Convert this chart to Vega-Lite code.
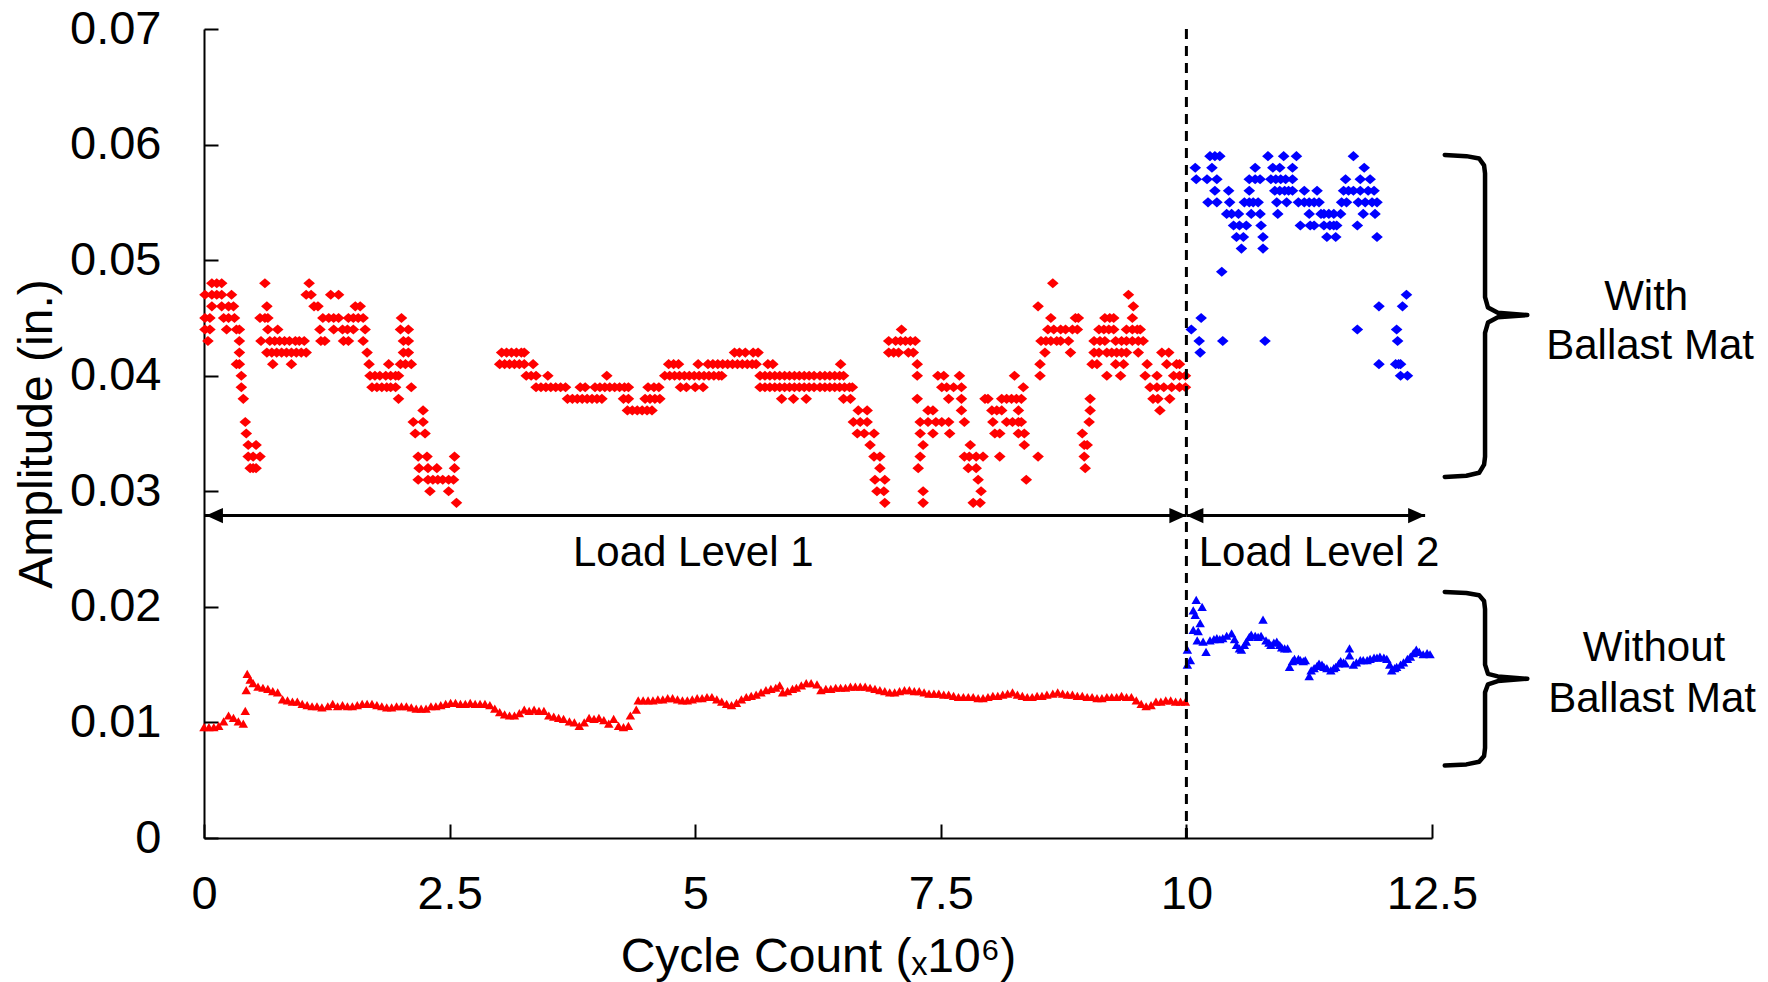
{
"$schema":"https://vega.github.io/schema/vega-lite/v6.json",
"width":1228,"height":809,
"autosize":{"type":"none"},
"padding":{"left":204,"top":29,"right":336,"bottom":144},
"background":"white",
"config":{"view":{"stroke":null},"font":"Liberation Sans"},
"datasets":{
"rd":[
{"x":0.08,"y":0.048},{"x":0.13,"y":0.048},{"x":0.18,"y":0.048},{"x":0.62,"y":0.048},{"x":1.07,"y":0.048},{"x":8.64,"y":0.048},
{"x":0.01,"y":0.047},{"x":0.08,"y":0.047},{"x":0.13,"y":0.047},{"x":0.18,"y":0.047},{"x":0.28,"y":0.047},{"x":1.04,"y":0.047},{"x":1.09,"y":0.047},{"x":1.29,"y":0.047},{"x":1.37,"y":0.047},{"x":9.41,"y":0.047},
{"x":0.08,"y":0.046},{"x":0.18,"y":0.046},{"x":0.25,"y":0.046},{"x":0.30,"y":0.046},{"x":0.64,"y":0.046},{"x":1.12,"y":0.046},{"x":1.16,"y":0.046},{"x":1.54,"y":0.046},{"x":1.59,"y":0.046},{"x":8.49,"y":0.046},{"x":9.46,"y":0.046},
{"x":0.01,"y":0.045},{"x":0.06,"y":0.045},{"x":0.20,"y":0.045},{"x":0.25,"y":0.045},{"x":0.31,"y":0.045},{"x":0.57,"y":0.045},{"x":0.62,"y":0.045},{"x":0.65,"y":0.045},{"x":1.21,"y":0.045},{"x":1.27,"y":0.045},{"x":1.32,"y":0.045},{"x":1.37,"y":0.045},{"x":1.47,"y":0.045},{"x":1.52,"y":0.045},{"x":1.57,"y":0.045},{"x":1.62,"y":0.045},{"x":2.01,"y":0.045},{"x":8.62,"y":0.045},{"x":8.87,"y":0.045},{"x":8.90,"y":0.045},{"x":9.17,"y":0.045},{"x":9.22,"y":0.045},{"x":9.26,"y":0.045},{"x":9.45,"y":0.045},
{"x":0.01,"y":0.044},{"x":0.06,"y":0.044},{"x":0.23,"y":0.044},{"x":0.33,"y":0.044},{"x":0.36,"y":0.044},{"x":0.65,"y":0.044},{"x":0.75,"y":0.044},{"x":1.18,"y":0.044},{"x":1.32,"y":0.044},{"x":1.41,"y":0.044},{"x":1.46,"y":0.044},{"x":1.52,"y":0.044},{"x":1.64,"y":0.044},{"x":2.00,"y":0.044},{"x":2.08,"y":0.044},{"x":7.10,"y":0.044},{"x":8.59,"y":0.044},{"x":8.65,"y":0.044},{"x":8.72,"y":0.044},{"x":8.77,"y":0.044},{"x":8.84,"y":0.044},{"x":8.89,"y":0.044},{"x":9.11,"y":0.044},{"x":9.16,"y":0.044},{"x":9.21,"y":0.044},{"x":9.26,"y":0.044},{"x":9.39,"y":0.044},{"x":9.45,"y":0.044},{"x":9.50,"y":0.044},{"x":9.53,"y":0.044},
{"x":0.04,"y":0.043},{"x":0.36,"y":0.043},{"x":0.58,"y":0.043},{"x":0.67,"y":0.043},{"x":0.72,"y":0.043},{"x":0.77,"y":0.043},{"x":0.82,"y":0.043},{"x":0.87,"y":0.043},{"x":0.93,"y":0.043},{"x":0.97,"y":0.043},{"x":1.02,"y":0.043},{"x":1.19,"y":0.043},{"x":1.23,"y":0.043},{"x":1.42,"y":0.043},{"x":1.47,"y":0.043},{"x":1.62,"y":0.043},{"x":2.03,"y":0.043},{"x":2.08,"y":0.043},{"x":6.97,"y":0.043},{"x":7.04,"y":0.043},{"x":7.09,"y":0.043},{"x":7.14,"y":0.043},{"x":7.19,"y":0.043},{"x":7.24,"y":0.043},{"x":8.52,"y":0.043},{"x":8.57,"y":0.043},{"x":8.62,"y":0.043},{"x":8.68,"y":0.043},{"x":8.72,"y":0.043},{"x":8.80,"y":0.043},{"x":9.06,"y":0.043},{"x":9.12,"y":0.043},{"x":9.17,"y":0.043},{"x":9.28,"y":0.043},{"x":9.34,"y":0.043},{"x":9.39,"y":0.043},{"x":9.45,"y":0.043},{"x":9.51,"y":0.043},{"x":9.56,"y":0.043},
{"x":0.36,"y":0.042},{"x":0.64,"y":0.042},{"x":0.69,"y":0.042},{"x":0.74,"y":0.042},{"x":0.79,"y":0.042},{"x":0.84,"y":0.042},{"x":0.89,"y":0.042},{"x":0.94,"y":0.042},{"x":0.99,"y":0.042},{"x":1.04,"y":0.042},{"x":1.66,"y":0.042},{"x":2.03,"y":0.042},{"x":2.08,"y":0.042},{"x":3.03,"y":0.042},{"x":3.08,"y":0.042},{"x":3.13,"y":0.042},{"x":3.18,"y":0.042},{"x":3.23,"y":0.042},{"x":3.26,"y":0.042},{"x":5.40,"y":0.042},{"x":5.45,"y":0.042},{"x":5.51,"y":0.042},{"x":5.59,"y":0.042},{"x":5.64,"y":0.042},{"x":6.97,"y":0.042},{"x":7.02,"y":0.042},{"x":7.07,"y":0.042},{"x":7.17,"y":0.042},{"x":7.22,"y":0.042},{"x":8.56,"y":0.042},{"x":8.82,"y":0.042},{"x":9.06,"y":0.042},{"x":9.11,"y":0.042},{"x":9.19,"y":0.042},{"x":9.24,"y":0.042},{"x":9.29,"y":0.042},{"x":9.34,"y":0.042},{"x":9.39,"y":0.042},{"x":9.51,"y":0.042},{"x":9.75,"y":0.042},{"x":9.82,"y":0.042},
{"x":0.33,"y":0.041},{"x":0.36,"y":0.041},{"x":0.70,"y":0.041},{"x":0.89,"y":0.041},{"x":1.68,"y":0.041},{"x":1.88,"y":0.041},{"x":2.00,"y":0.041},{"x":2.05,"y":0.041},{"x":2.11,"y":0.041},{"x":3.01,"y":0.041},{"x":3.06,"y":0.041},{"x":3.11,"y":0.041},{"x":3.16,"y":0.041},{"x":3.21,"y":0.041},{"x":3.26,"y":0.041},{"x":3.35,"y":0.041},{"x":4.73,"y":0.041},{"x":4.78,"y":0.041},{"x":4.83,"y":0.041},{"x":5.03,"y":0.041},{"x":5.13,"y":0.041},{"x":5.18,"y":0.041},{"x":5.23,"y":0.041},{"x":5.28,"y":0.041},{"x":5.33,"y":0.041},{"x":5.38,"y":0.041},{"x":5.43,"y":0.041},{"x":5.48,"y":0.041},{"x":5.53,"y":0.041},{"x":5.58,"y":0.041},{"x":5.62,"y":0.041},{"x":5.74,"y":0.041},{"x":5.79,"y":0.041},{"x":6.48,"y":0.041},{"x":7.26,"y":0.041},{"x":8.51,"y":0.041},{"x":9.04,"y":0.041},{"x":9.09,"y":0.041},{"x":9.28,"y":0.041},{"x":9.36,"y":0.041},{"x":9.60,"y":0.041},{"x":9.80,"y":0.041},{"x":9.90,"y":0.041},{"x":9.93,"y":0.041},
{"x":0.38,"y":0.040},{"x":1.69,"y":0.040},{"x":1.74,"y":0.040},{"x":1.79,"y":0.040},{"x":1.85,"y":0.040},{"x":1.90,"y":0.040},{"x":1.95,"y":0.040},{"x":1.98,"y":0.040},{"x":3.28,"y":0.040},{"x":3.33,"y":0.040},{"x":3.38,"y":0.040},{"x":3.50,"y":0.040},{"x":4.10,"y":0.040},{"x":4.69,"y":0.040},{"x":4.74,"y":0.040},{"x":4.79,"y":0.040},{"x":4.84,"y":0.040},{"x":4.89,"y":0.040},{"x":4.94,"y":0.040},{"x":4.99,"y":0.040},{"x":5.04,"y":0.040},{"x":5.09,"y":0.040},{"x":5.14,"y":0.040},{"x":5.19,"y":0.040},{"x":5.24,"y":0.040},{"x":5.27,"y":0.040},{"x":5.66,"y":0.040},{"x":5.71,"y":0.040},{"x":5.76,"y":0.040},{"x":5.81,"y":0.040},{"x":5.86,"y":0.040},{"x":5.91,"y":0.040},{"x":5.96,"y":0.040},{"x":6.01,"y":0.040},{"x":6.06,"y":0.040},{"x":6.11,"y":0.040},{"x":6.16,"y":0.040},{"x":6.21,"y":0.040},{"x":6.27,"y":0.040},{"x":6.32,"y":0.040},{"x":6.37,"y":0.040},{"x":6.42,"y":0.040},{"x":6.47,"y":0.040},{"x":6.51,"y":0.040},{"x":7.26,"y":0.040},{"x":7.47,"y":0.040},{"x":7.53,"y":0.040},{"x":7.69,"y":0.040},{"x":8.25,"y":0.040},{"x":8.51,"y":0.040},{"x":9.19,"y":0.040},{"x":9.33,"y":0.040},{"x":9.58,"y":0.040},{"x":9.70,"y":0.040},{"x":9.87,"y":0.040},{"x":9.93,"y":0.040},{"x":9.99,"y":0.040},
{"x":0.38,"y":0.039},{"x":1.71,"y":0.039},{"x":1.76,"y":0.039},{"x":1.81,"y":0.039},{"x":1.86,"y":0.039},{"x":1.90,"y":0.039},{"x":1.95,"y":0.039},{"x":2.11,"y":0.039},{"x":3.38,"y":0.039},{"x":3.43,"y":0.039},{"x":3.48,"y":0.039},{"x":3.53,"y":0.039},{"x":3.58,"y":0.039},{"x":3.63,"y":0.039},{"x":3.68,"y":0.039},{"x":3.83,"y":0.039},{"x":3.88,"y":0.039},{"x":3.98,"y":0.039},{"x":4.03,"y":0.039},{"x":4.08,"y":0.039},{"x":4.13,"y":0.039},{"x":4.18,"y":0.039},{"x":4.23,"y":0.039},{"x":4.28,"y":0.039},{"x":4.32,"y":0.039},{"x":4.52,"y":0.039},{"x":4.58,"y":0.039},{"x":4.63,"y":0.039},{"x":4.85,"y":0.039},{"x":4.91,"y":0.039},{"x":5.00,"y":0.039},{"x":5.08,"y":0.039},{"x":5.66,"y":0.039},{"x":5.71,"y":0.039},{"x":5.76,"y":0.039},{"x":5.81,"y":0.039},{"x":5.86,"y":0.039},{"x":5.91,"y":0.039},{"x":5.96,"y":0.039},{"x":6.01,"y":0.039},{"x":6.06,"y":0.039},{"x":6.11,"y":0.039},{"x":6.16,"y":0.039},{"x":6.21,"y":0.039},{"x":6.27,"y":0.039},{"x":6.32,"y":0.039},{"x":6.37,"y":0.039},{"x":6.42,"y":0.039},{"x":6.47,"y":0.039},{"x":6.52,"y":0.039},{"x":6.57,"y":0.039},{"x":6.60,"y":0.039},{"x":7.51,"y":0.039},{"x":7.56,"y":0.039},{"x":7.63,"y":0.039},{"x":7.71,"y":0.039},{"x":8.34,"y":0.039},{"x":9.63,"y":0.039},{"x":9.70,"y":0.039},{"x":9.77,"y":0.039},{"x":9.85,"y":0.039},{"x":9.93,"y":0.039},{"x":9.99,"y":0.039},
{"x":0.40,"y":0.038},{"x":1.98,"y":0.038},{"x":3.70,"y":0.038},{"x":3.75,"y":0.038},{"x":3.80,"y":0.038},{"x":3.85,"y":0.038},{"x":3.90,"y":0.038},{"x":3.95,"y":0.038},{"x":4.00,"y":0.038},{"x":4.05,"y":0.038},{"x":4.27,"y":0.038},{"x":4.32,"y":0.038},{"x":4.49,"y":0.038},{"x":4.54,"y":0.038},{"x":4.59,"y":0.038},{"x":4.64,"y":0.038},{"x":5.88,"y":0.038},{"x":6.00,"y":0.038},{"x":6.13,"y":0.038},{"x":6.51,"y":0.038},{"x":6.58,"y":0.038},{"x":7.26,"y":0.038},{"x":7.58,"y":0.038},{"x":7.71,"y":0.038},{"x":7.95,"y":0.038},{"x":7.98,"y":0.038},{"x":8.12,"y":0.038},{"x":8.17,"y":0.038},{"x":8.22,"y":0.038},{"x":8.27,"y":0.038},{"x":8.32,"y":0.038},{"x":9.02,"y":0.038},{"x":9.66,"y":0.038},{"x":9.71,"y":0.038},{"x":9.83,"y":0.038},
{"x":2.23,"y":0.037},{"x":4.31,"y":0.037},{"x":4.36,"y":0.037},{"x":4.41,"y":0.037},{"x":4.46,"y":0.037},{"x":4.51,"y":0.037},{"x":4.56,"y":0.037},{"x":6.66,"y":0.037},{"x":6.75,"y":0.037},{"x":7.37,"y":0.037},{"x":7.42,"y":0.037},{"x":7.71,"y":0.037},{"x":8.02,"y":0.037},{"x":8.07,"y":0.037},{"x":8.12,"y":0.037},{"x":8.29,"y":0.037},{"x":9.02,"y":0.037},{"x":9.73,"y":0.037},
{"x":0.42,"y":0.036},{"x":2.13,"y":0.036},{"x":2.23,"y":0.036},{"x":6.61,"y":0.036},{"x":6.68,"y":0.036},{"x":6.75,"y":0.036},{"x":7.29,"y":0.036},{"x":7.37,"y":0.036},{"x":7.45,"y":0.036},{"x":7.51,"y":0.036},{"x":7.58,"y":0.036},{"x":7.74,"y":0.036},{"x":8.03,"y":0.036},{"x":8.17,"y":0.036},{"x":8.23,"y":0.036},{"x":8.29,"y":0.036},{"x":8.32,"y":0.036},{"x":9.01,"y":0.036},
{"x":0.43,"y":0.035},{"x":2.15,"y":0.035},{"x":2.25,"y":0.035},{"x":6.65,"y":0.035},{"x":6.72,"y":0.035},{"x":6.82,"y":0.035},{"x":7.29,"y":0.035},{"x":7.42,"y":0.035},{"x":7.59,"y":0.035},{"x":8.05,"y":0.035},{"x":8.10,"y":0.035},{"x":8.29,"y":0.035},{"x":8.35,"y":0.035},{"x":8.94,"y":0.035},
{"x":0.45,"y":0.034},{"x":0.53,"y":0.034},{"x":6.78,"y":0.034},{"x":7.32,"y":0.034},{"x":7.80,"y":0.034},{"x":8.35,"y":0.034},{"x":8.96,"y":0.034},{"x":8.99,"y":0.034},
{"x":0.45,"y":0.033},{"x":0.50,"y":0.033},{"x":0.57,"y":0.033},{"x":2.18,"y":0.033},{"x":2.27,"y":0.033},{"x":2.55,"y":0.033},{"x":6.82,"y":0.033},{"x":6.88,"y":0.033},{"x":7.29,"y":0.033},{"x":7.74,"y":0.033},{"x":7.79,"y":0.033},{"x":7.86,"y":0.033},{"x":7.93,"y":0.033},{"x":8.10,"y":0.033},{"x":8.49,"y":0.033},{"x":8.96,"y":0.033},
{"x":0.47,"y":0.032},{"x":0.50,"y":0.032},{"x":0.53,"y":0.032},{"x":2.19,"y":0.032},{"x":2.28,"y":0.032},{"x":2.37,"y":0.032},{"x":2.55,"y":0.032},{"x":6.88,"y":0.032},{"x":7.27,"y":0.032},{"x":7.78,"y":0.032},{"x":7.86,"y":0.032},{"x":8.97,"y":0.032},
{"x":2.18,"y":0.031},{"x":2.28,"y":0.031},{"x":2.33,"y":0.031},{"x":2.38,"y":0.031},{"x":2.43,"y":0.031},{"x":2.49,"y":0.031},{"x":2.54,"y":0.031},{"x":6.83,"y":0.031},{"x":6.93,"y":0.031},{"x":7.88,"y":0.031},{"x":8.37,"y":0.031},
{"x":2.30,"y":0.030},{"x":2.49,"y":0.030},{"x":6.85,"y":0.030},{"x":6.92,"y":0.030},{"x":7.32,"y":0.030},{"x":7.91,"y":0.030},
{"x":2.57,"y":0.029},{"x":6.93,"y":0.029},{"x":7.32,"y":0.029},{"x":7.83,"y":0.029},{"x":7.90,"y":0.029}
],
"bd":[
{"x":10.05,"y":0.044},{"x":10.09,"y":0.058},{"x":10.10,"y":0.057},{"x":10.13,"y":0.043},{"x":10.14,"y":0.042},{"x":10.15,"y":0.045},{"x":10.21,"y":0.057},{"x":10.22,"y":0.055},{"x":10.24,"y":0.059},{"x":10.26,"y":0.058},{"x":10.29,"y":0.059},{"x":10.29,"y":0.056},{"x":10.31,"y":0.057},{"x":10.31,"y":0.055},{"x":10.34,"y":0.059},{"x":10.36,"y":0.049},{"x":10.37,"y":0.043},{"x":10.41,"y":0.054},{"x":10.43,"y":0.056},{"x":10.44,"y":0.055},{"x":10.46,"y":0.054},{"x":10.48,"y":0.053},{"x":10.51,"y":0.052},{"x":10.53,"y":0.054},{"x":10.54,"y":0.053},{"x":10.56,"y":0.051},{"x":10.58,"y":0.052},{"x":10.59,"y":0.055},{"x":10.61,"y":0.053},{"x":10.64,"y":0.057},{"x":10.64,"y":0.056},{"x":10.64,"y":0.055},{"x":10.66,"y":0.054},{"x":10.68,"y":0.055},{"x":10.70,"y":0.058},{"x":10.70,"y":0.057},{"x":10.73,"y":0.055},{"x":10.75,"y":0.057},{"x":10.75,"y":0.054},{"x":10.76,"y":0.053},{"x":10.78,"y":0.052},{"x":10.78,"y":0.051},{"x":10.80,"y":0.043},{"x":10.83,"y":0.059},{"x":10.86,"y":0.057},{"x":10.88,"y":0.058},{"x":10.90,"y":0.056},{"x":10.91,"y":0.057},{"x":10.92,"y":0.055},{"x":10.93,"y":0.054},{"x":10.95,"y":0.058},{"x":10.95,"y":0.056},{"x":10.96,"y":0.057},{"x":10.99,"y":0.059},{"x":11.00,"y":0.056},{"x":11.01,"y":0.057},{"x":11.02,"y":0.055},{"x":11.04,"y":0.056},{"x":11.08,"y":0.058},{"x":11.08,"y":0.057},{"x":11.08,"y":0.056},{"x":11.12,"y":0.059},{"x":11.14,"y":0.055},{"x":11.16,"y":0.053},{"x":11.20,"y":0.056},{"x":11.20,"y":0.055},{"x":11.25,"y":0.055},{"x":11.25,"y":0.054},{"x":11.26,"y":0.053},{"x":11.30,"y":0.055},{"x":11.30,"y":0.053},{"x":11.33,"y":0.056},{"x":11.35,"y":0.055},{"x":11.37,"y":0.054},{"x":11.40,"y":0.054},{"x":11.40,"y":0.053},{"x":11.43,"y":0.052},{"x":11.45,"y":0.054},{"x":11.46,"y":0.053},{"x":11.50,"y":0.054},{"x":11.50,"y":0.053},{"x":11.52,"y":0.052},{"x":11.53,"y":0.053},{"x":11.57,"y":0.054},{"x":11.58,"y":0.055},{"x":11.60,"y":0.056},{"x":11.62,"y":0.057},{"x":11.63,"y":0.055},{"x":11.65,"y":0.056},{"x":11.70,"y":0.059},{"x":11.70,"y":0.056},{"x":11.74,"y":0.053},{"x":11.74,"y":0.044},{"x":11.75,"y":0.055},{"x":11.77,"y":0.057},{"x":11.77,"y":0.056},{"x":11.80,"y":0.054},{"x":11.81,"y":0.058},{"x":11.82,"y":0.055},{"x":11.85,"y":0.056},{"x":11.87,"y":0.057},{"x":11.89,"y":0.055},{"x":11.91,"y":0.056},{"x":11.92,"y":0.054},{"x":11.94,"y":0.055},{"x":11.94,"y":0.052},{"x":11.96,"y":0.046},{"x":11.96,"y":0.041},{"x":12.13,"y":0.041},{"x":12.14,"y":0.044},{"x":12.15,"y":0.043},{"x":12.16,"y":0.041},{"x":12.18,"y":0.041},{"x":12.18,"y":0.040},{"x":12.20,"y":0.046},{"x":12.24,"y":0.047},{"x":12.25,"y":0.040}
],
"rt":[
{"x":0.00,"y":0.0096},{"x":0.05,"y":0.0096},{"x":0.10,"y":0.0096},{"x":0.15,"y":0.0097},{"x":0.20,"y":0.0101},{"x":0.25,"y":0.0106},{"x":0.30,"y":0.0104},{"x":0.35,"y":0.0101},{"x":0.40,"y":0.0099},{"x":0.42,"y":0.0110},{"x":0.43,"y":0.0128},{"x":0.44,"y":0.0142},{"x":0.47,"y":0.0137},{"x":0.50,"y":0.0134},{"x":0.55,"y":0.0131},{"x":0.60,"y":0.0130},{"x":0.65,"y":0.0129},{"x":0.70,"y":0.0127},{"x":0.75,"y":0.0126},{"x":0.80,"y":0.0120},{"x":0.85,"y":0.0119},{"x":0.90,"y":0.0118},{"x":0.95,"y":0.0118},{"x":1.00,"y":0.0116},{"x":1.05,"y":0.0115},{"x":1.10,"y":0.0114},{"x":1.15,"y":0.0114},{"x":1.20,"y":0.0113},{"x":1.26,"y":0.0114},{"x":1.31,"y":0.0116},{"x":1.36,"y":0.0114},{"x":1.41,"y":0.0115},{"x":1.46,"y":0.0114},{"x":1.51,"y":0.0114},{"x":1.56,"y":0.0115},{"x":1.61,"y":0.0116},{"x":1.66,"y":0.0116},{"x":1.71,"y":0.0116},{"x":1.76,"y":0.0115},{"x":1.81,"y":0.0114},{"x":1.86,"y":0.0113},{"x":1.91,"y":0.0113},{"x":1.96,"y":0.0114},{"x":2.01,"y":0.0114},{"x":2.06,"y":0.0114},{"x":2.11,"y":0.0113},{"x":2.16,"y":0.0112},{"x":2.21,"y":0.0112},{"x":2.26,"y":0.0112},{"x":2.31,"y":0.0114},{"x":2.36,"y":0.0114},{"x":2.41,"y":0.0115},{"x":2.46,"y":0.0116},{"x":2.51,"y":0.0117},{"x":2.56,"y":0.0117},{"x":2.61,"y":0.0116},{"x":2.66,"y":0.0116},{"x":2.71,"y":0.0117},{"x":2.76,"y":0.0116},{"x":2.81,"y":0.0116},{"x":2.86,"y":0.0116},{"x":2.91,"y":0.0115},{"x":2.96,"y":0.0112},{"x":3.01,"y":0.0109},{"x":3.06,"y":0.0107},{"x":3.11,"y":0.0106},{"x":3.16,"y":0.0106},{"x":3.21,"y":0.0108},{"x":3.26,"y":0.0111},{"x":3.31,"y":0.0110},{"x":3.36,"y":0.0111},{"x":3.41,"y":0.0110},{"x":3.46,"y":0.0110},{"x":3.51,"y":0.0106},{"x":3.56,"y":0.0105},{"x":3.61,"y":0.0104},{"x":3.66,"y":0.0103},{"x":3.72,"y":0.0101},{"x":3.77,"y":0.0100},{"x":3.82,"y":0.0097},{"x":3.87,"y":0.0100},{"x":3.92,"y":0.0104},{"x":3.97,"y":0.0103},{"x":4.02,"y":0.0104},{"x":4.07,"y":0.0102},{"x":4.12,"y":0.0099},{"x":4.17,"y":0.0103},{"x":4.22,"y":0.0097},{"x":4.27,"y":0.0096},{"x":4.32,"y":0.0097},{"x":4.34,"y":0.0106},{"x":4.40,"y":0.0111},{"x":4.42,"y":0.0119},{"x":4.47,"y":0.0119},{"x":4.52,"y":0.0119},{"x":4.57,"y":0.0119},{"x":4.62,"y":0.0120},{"x":4.67,"y":0.0120},{"x":4.72,"y":0.0121},{"x":4.77,"y":0.0121},{"x":4.82,"y":0.0120},{"x":4.87,"y":0.0119},{"x":4.92,"y":0.0119},{"x":4.97,"y":0.0120},{"x":5.02,"y":0.0121},{"x":5.07,"y":0.0121},{"x":5.12,"y":0.0122},{"x":5.17,"y":0.0122},{"x":5.22,"y":0.0120},{"x":5.27,"y":0.0118},{"x":5.32,"y":0.0116},{"x":5.37,"y":0.0115},{"x":5.42,"y":0.0117},{"x":5.47,"y":0.0120},{"x":5.52,"y":0.0122},{"x":5.57,"y":0.0123},{"x":5.62,"y":0.0124},{"x":5.67,"y":0.0126},{"x":5.72,"y":0.0128},{"x":5.77,"y":0.0129},{"x":5.82,"y":0.0130},{"x":5.86,"y":0.0132},{"x":5.89,"y":0.0126},{"x":5.94,"y":0.0127},{"x":5.99,"y":0.0129},{"x":6.03,"y":0.0130},{"x":6.08,"y":0.0132},{"x":6.13,"y":0.0134},{"x":6.18,"y":0.0134},{"x":6.24,"y":0.0133},{"x":6.28,"y":0.0128},{"x":6.33,"y":0.0129},{"x":6.38,"y":0.0129},{"x":6.43,"y":0.0130},{"x":6.48,"y":0.0130},{"x":6.53,"y":0.0130},{"x":6.58,"y":0.0131},{"x":6.63,"y":0.0131},{"x":6.68,"y":0.0131},{"x":6.73,"y":0.0131},{"x":6.78,"y":0.0130},{"x":6.83,"y":0.0129},{"x":6.88,"y":0.0128},{"x":6.93,"y":0.0127},{"x":6.98,"y":0.0126},{"x":7.03,"y":0.0126},{"x":7.08,"y":0.0127},{"x":7.13,"y":0.0128},{"x":7.18,"y":0.0128},{"x":7.23,"y":0.0127},{"x":7.28,"y":0.0127},{"x":7.33,"y":0.0126},{"x":7.38,"y":0.0125},{"x":7.43,"y":0.0125},{"x":7.48,"y":0.0125},{"x":7.53,"y":0.0124},{"x":7.58,"y":0.0124},{"x":7.63,"y":0.0123},{"x":7.68,"y":0.0122},{"x":7.73,"y":0.0122},{"x":7.78,"y":0.0122},{"x":7.83,"y":0.0122},{"x":7.88,"y":0.0121},{"x":7.93,"y":0.0121},{"x":7.98,"y":0.0122},{"x":8.03,"y":0.0123},{"x":8.08,"y":0.0123},{"x":8.13,"y":0.0124},{"x":8.18,"y":0.0125},{"x":8.23,"y":0.0126},{"x":8.28,"y":0.0124},{"x":8.33,"y":0.0123},{"x":8.38,"y":0.0122},{"x":8.43,"y":0.0122},{"x":8.48,"y":0.0123},{"x":8.53,"y":0.0123},{"x":8.58,"y":0.0124},{"x":8.64,"y":0.0125},{"x":8.69,"y":0.0126},{"x":8.74,"y":0.0125},{"x":8.79,"y":0.0124},{"x":8.84,"y":0.0124},{"x":8.89,"y":0.0123},{"x":8.94,"y":0.0123},{"x":8.99,"y":0.0122},{"x":9.04,"y":0.0122},{"x":9.09,"y":0.0121},{"x":9.14,"y":0.0121},{"x":9.19,"y":0.0122},{"x":9.24,"y":0.0122},{"x":9.29,"y":0.0122},{"x":9.34,"y":0.0123},{"x":9.39,"y":0.0122},{"x":9.44,"y":0.0122},{"x":9.49,"y":0.0119},{"x":9.54,"y":0.0116},{"x":9.59,"y":0.0114},{"x":9.64,"y":0.0115},{"x":9.69,"y":0.0118},{"x":9.74,"y":0.0118},{"x":9.79,"y":0.0119},{"x":9.84,"y":0.0119},{"x":9.89,"y":0.0118},{"x":9.94,"y":0.0118},{"x":9.99,"y":0.0118}
],
"bt":[
{"x":10.01,"y":0.0163},{"x":10.01,"y":0.0150},{"x":10.04,"y":0.0154},{"x":10.07,"y":0.0180},{"x":10.07,"y":0.0197},{"x":10.10,"y":0.0206},{"x":10.09,"y":0.0193},{"x":10.12,"y":0.0179},{"x":10.11,"y":0.0171},{"x":10.14,"y":0.0186},{"x":10.16,"y":0.0200},{"x":10.17,"y":0.0170},{"x":10.20,"y":0.0161},{"x":10.24,"y":0.0171},{"x":10.28,"y":0.0172},{"x":10.31,"y":0.0173},{"x":10.34,"y":0.0172},{"x":10.37,"y":0.0173},{"x":10.41,"y":0.0175},{"x":10.46,"y":0.0177},{"x":10.49,"y":0.0172},{"x":10.51,"y":0.0167},{"x":10.54,"y":0.0164},{"x":10.56,"y":0.0163},{"x":10.59,"y":0.0167},{"x":10.61,"y":0.0170},{"x":10.64,"y":0.0174},{"x":10.66,"y":0.0176},{"x":10.70,"y":0.0175},{"x":10.73,"y":0.0174},{"x":10.76,"y":0.0175},{"x":10.78,"y":0.0189},{"x":10.81,"y":0.0171},{"x":10.84,"y":0.0169},{"x":10.86,"y":0.0167},{"x":10.89,"y":0.0169},{"x":10.92,"y":0.0170},{"x":10.95,"y":0.0167},{"x":10.97,"y":0.0165},{"x":11.00,"y":0.0164},{"x":11.03,"y":0.0164},{"x":11.05,"y":0.0148},{"x":11.08,"y":0.0153},{"x":11.10,"y":0.0155},{"x":11.14,"y":0.0155},{"x":11.16,"y":0.0154},{"x":11.19,"y":0.0153},{"x":11.21,"y":0.0154},{"x":11.25,"y":0.0140},{"x":11.27,"y":0.0145},{"x":11.30,"y":0.0147},{"x":11.33,"y":0.0149},{"x":11.35,"y":0.0151},{"x":11.38,"y":0.0150},{"x":11.40,"y":0.0148},{"x":11.43,"y":0.0147},{"x":11.47,"y":0.0145},{"x":11.50,"y":0.0147},{"x":11.52,"y":0.0148},{"x":11.55,"y":0.0151},{"x":11.57,"y":0.0153},{"x":11.60,"y":0.0152},{"x":11.62,"y":0.0151},{"x":11.66,"y":0.0164},{"x":11.66,"y":0.0158},{"x":11.70,"y":0.0150},{"x":11.73,"y":0.0152},{"x":11.77,"y":0.0154},{"x":11.80,"y":0.0154},{"x":11.84,"y":0.0154},{"x":11.87,"y":0.0155},{"x":11.91,"y":0.0156},{"x":11.94,"y":0.0156},{"x":11.97,"y":0.0157},{"x":12.01,"y":0.0156},{"x":12.04,"y":0.0155},{"x":12.07,"y":0.0150},{"x":12.09,"y":0.0145},{"x":12.12,"y":0.0147},{"x":12.14,"y":0.0148},{"x":12.18,"y":0.0150},{"x":12.21,"y":0.0152},{"x":12.25,"y":0.0155},{"x":12.28,"y":0.0157},{"x":12.31,"y":0.0160},{"x":12.34,"y":0.0163},{"x":12.37,"y":0.0161},{"x":12.41,"y":0.0159},{"x":12.45,"y":0.0160},{"x":12.48,"y":0.0159}
],
"braces":[
{"b":1,"i":0,"x":12.63,"y":0.0591},{"b":1,"i":1,"x":12.85,"y":0.0590},{"b":1,"i":2,"x":12.98,"y":0.0588},{"b":1,"i":3,"x":13.03,"y":0.0582},{"b":1,"i":4,"x":13.04,"y":0.0575},{"b":1,"i":5,"x":13.04,"y":0.0468},{"b":1,"i":6,"x":13.07,"y":0.0459},{"b":1,"i":7,"x":13.17,"y":0.04545},{"b":1,"i":8,"x":13.47,"y":0.04525},{"b":1,"i":9,"x":13.17,"y":0.04505},{"b":1,"i":10,"x":13.07,"y":0.0446},{"b":1,"i":11,"x":13.04,"y":0.0437},{"b":1,"i":12,"x":13.04,"y":0.0330},{"b":1,"i":13,"x":13.03,"y":0.0323},{"b":1,"i":14,"x":12.98,"y":0.0316},{"b":1,"i":15,"x":12.85,"y":0.03135},{"b":1,"i":16,"x":12.63,"y":0.03124},
{"b":2,"i":0,"x":12.63,"y":0.02129},{"b":2,"i":1,"x":12.85,"y":0.0212},{"b":2,"i":2,"x":12.98,"y":0.0210},{"b":2,"i":3,"x":13.03,"y":0.0205},{"b":2,"i":4,"x":13.04,"y":0.0198},{"b":2,"i":5,"x":13.04,"y":0.0150},{"b":2,"i":6,"x":13.07,"y":0.0142},{"b":2,"i":7,"x":13.17,"y":0.01398},{"b":2,"i":8,"x":13.47,"y":0.01378},{"b":2,"i":9,"x":13.17,"y":0.01358},{"b":2,"i":10,"x":13.07,"y":0.0133},{"b":2,"i":11,"x":13.04,"y":0.0126},{"b":2,"i":12,"x":13.04,"y":0.0078},{"b":2,"i":13,"x":13.03,"y":0.0071},{"b":2,"i":14,"x":12.98,"y":0.0066},{"b":2,"i":15,"x":12.85,"y":0.00637},{"b":2,"i":16,"x":12.63,"y":0.00627}
],
"labels":[
{"t":"With","x":14.68,"y":0.04685},{"t":"Ballast Mat","x":14.72,"y":0.04257},{"t":"Without","x":14.76,"y":0.0164},{"t":"Ballast Mat","x":14.74,"y":0.01203},{"t":"Load Level 1","x":4.98,"y":0.0247},{"t":"Load Level 2","x":11.35,"y":0.0247}
],
"arrows":[{"x":0,"x2":10,"y":0.0279},{"x":10,"x2":12.43,"y":0.0279}],
"heads":[{"x":0.02,"y":0.0279,"d":"L"},{"x":10,"y":0.0279,"d":"R"},{"x":10,"y":0.0279,"d":"L"},{"x":12.43,"y":0.0279,"d":"R"}],
"divider":[{"x":10,"y":0,"y2":0.07}]
},
"encoding":{
"x":{"field":"x","type":"quantitative","scale":{"domain":[0,12.5],"nice":false,"zero":false},
"axis":{"values":[0,2.5,5,7.5,10,12.5],"labelExpr":"format(datum.value, '~g')","title":"Cycle Count (ₓ10⁶)","grid":false,"domainColor":"#000000","domainWidth":2,"tickColor":"#000000","tickWidth":2,"tickSize":-14,"labelFont":"Liberation Sans","labelFontSize":47,"labelColor":"#000000","labelPadding":47,"labelFlush":false,"labelOverlap":false,"titleFont":"Liberation Sans","titleFontSize":48,"titleFontWeight":"normal","titleColor":"#000000","titlePadding":16}},
"y":{"field":"y","type":"quantitative","scale":{"domain":[0,0.07],"nice":false},
"axis":{"values":[0,0.01,0.02,0.03,0.04,0.05,0.06,0.07],"labelExpr":"datum.value == 0 ? '0' : format(datum.value, '.2f')","title":"Amplitude (in.)","grid":false,"domainColor":"#000000","domainWidth":2,"tickColor":"#000000","tickWidth":2,"tickSize":-14,"labelFont":"Liberation Sans","labelFontSize":47,"labelColor":"#000000","labelPadding":57,"labelFlush":false,"labelOverlap":false,"titleFont":"Liberation Sans","titleFontSize":48,"titleFontWeight":"normal","titleColor":"#000000","titlePadding":8}}
},
"layer":[
{"data":{"name":"rd"},"mark":{"type":"point","shape":"M-1.07,0L0,-0.93L1.07,0L0,0.93Z","filled":true,"size":118,"color":"#FF0000","opacity":1}},
{"data":{"name":"rt"},"mark":{"type":"point","shape":"triangle-up","filled":true,"size":90,"color":"#FF0000","opacity":1}},
{"data":{"name":"bd"},"mark":{"type":"point","shape":"M-1.07,0L0,-0.93L1.07,0L0,0.93Z","filled":true,"size":118,"color":"#0000FF","opacity":1}},
{"data":{"name":"bt"},"mark":{"type":"point","shape":"triangle-up","filled":true,"size":90,"color":"#0000FF","opacity":1}},
{"data":{"name":"divider"},"mark":{"type":"rule","color":"#000000","strokeWidth":3,"strokeDash":[10,7]},"encoding":{"y2":{"field":"y2"}}},
{"data":{"name":"arrows"},"mark":{"type":"rule","color":"#000000","strokeWidth":3},"encoding":{"x2":{"field":"x2"}}},
{"data":{"name":"heads"},"mark":{"type":"point","filled":true,"size":289,"color":"#000000","opacity":1},"encoding":{"shape":{"field":"d","type":"nominal","scale":{"domain":["L","R"],"range":["M0,0L2,-0.9L2,0.9Z","M0,0L-2,-0.9L-2,0.9Z"]},"legend":null}}},
{"data":{"name":"braces"},"mark":{"type":"line","color":"#000000","strokeWidth":4.5,"strokeJoin":"round","strokeCap":"round"},"encoding":{"detail":{"field":"b","type":"nominal"},"order":{"field":"i","type":"quantitative"}}},
{"data":{"name":"labels"},"mark":{"type":"text","font":"Liberation Sans","fontSize":42,"color":"#000000","align":"center","baseline":"middle"},"encoding":{"text":{"field":"t","type":"nominal"}}}
]
}
